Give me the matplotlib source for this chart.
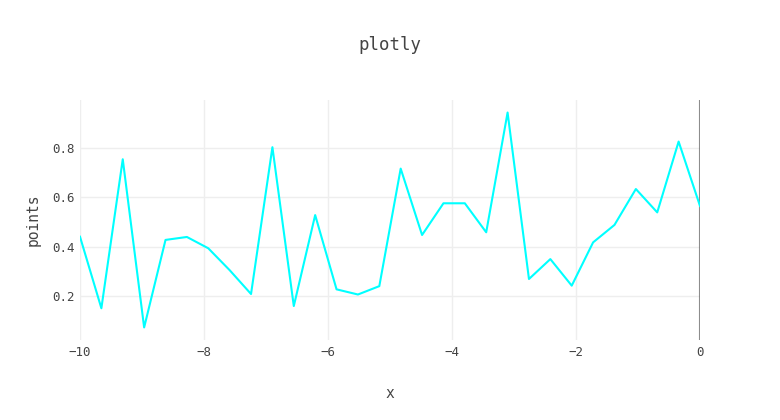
import matplotlib
matplotlib.use('Agg')
import matplotlib.pyplot as plt
import numpy as np

# 30 samples evenly spaced over [-10, 0]
x = np.linspace(-10, 0, 30)
points = [0.44, 0.149, 0.755, 0.071, 0.427, 0.439, 0.393, 0.304, 0.207, 0.804,
          0.158, 0.528, 0.226, 0.205, 0.239, 0.717, 0.447, 0.576, 0.576, 0.458,
          0.945, 0.268, 0.349, 0.241, 0.417, 0.488, 0.634, 0.539, 0.827, 0.565]
xticks = [-10, -8, -6, -4, -2, 0]
yticks = [0.2, 0.4, 0.6, 0.8]

plt.rcParams['font.family'] = ['DejaVu Sans Mono']

fig = plt.figure(figsize=(7.8, 4.2), dpi=100)
ax = fig.add_axes([80 / 780, 80 / 420, 620 / 780, 240 / 420])

ax.plot(x, points, color='#00ffff', lw=1.5, zorder=3)

ax.set_xlim(-10, 0)
ax.set_ylim(0.02, 0.996)
ax.set_xticks(xticks)
ax.set_xticklabels(['\u2212' + str(abs(t)) if t < 0 else str(t) for t in xticks])
ax.set_yticks(yticks)
ax.set_yticklabels(['%.1f' % t for t in yticks])
ax.grid(True, color='#eeeeee', lw=1)
ax.set_axisbelow(True)
ax.axvline(0, color='#444444', lw=1.5, alpha=0.6, zorder=2)
for s in ax.spines.values():
    s.set_visible(False)
ax.tick_params(length=0, labelsize=9, colors='#444444', pad=4)

fig.text(390 / 780, 1 - 45 / 420, 'plotly', ha='center', va='center',
         fontsize=12.5, color='#444444')
fig.text(390 / 780, 1 - 393 / 420, 'x', ha='center', va='center',
         fontsize=10.5, color='#444444')
fig.text(33 / 780, 1 - 220 / 420, 'points', ha='center', va='center',
         rotation=90, fontsize=10.5, color='#444444')

fig.savefig('out.png', dpi=100)
